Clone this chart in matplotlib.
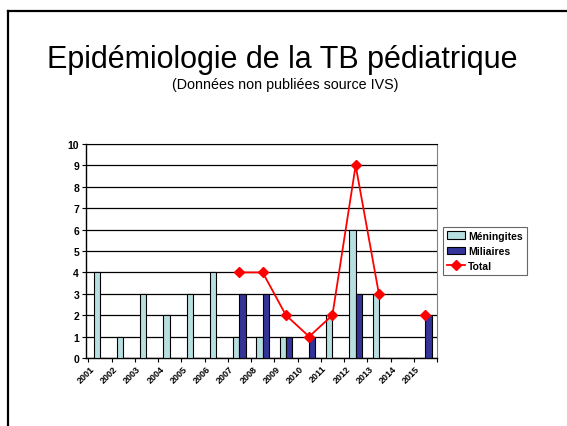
import matplotlib
matplotlib.use("Agg")
import matplotlib.pyplot as plt
import numpy as np
from matplotlib.lines import Line2D

plt.rcParams['font.family'] = ['Liberation Sans', 'DejaVu Sans']

years = ['2001', '2002', '2003', '2004', '2005', '2006', '2007', '2008',
         '2009', '2010', '2011', '2012', '2013', '2014', '2015']
meningites = [4, 1, 3, 2, 3, 4, 1, 1, 1, 0, 2, 6, 3, 0, 0]
miliaires = [0, 0, 0, 0, 0, 0, 3, 3, 1, 1, 0, 3, 0, 0, 2]
total = [np.nan, np.nan, np.nan, np.nan, np.nan, np.nan, 4, 4, 2, 1, 2, 9, 3, np.nan, 2]
yticks = list(range(0, 11))

fig = plt.figure(figsize=(5.67, 4.27), dpi=100)
ax = fig.add_axes([86/567, 1-359/427, (437-86)/567, (359-145)/427])

x = np.arange(len(years))
w = 0.27
b1 = ax.bar(x - w/2, meningites, width=w, color='#B7DEE0', edgecolor='black', linewidth=0.8,
            label='Méningites', zorder=3)
b2 = ax.bar(x + w/2, miliaires, width=w, color='#333399', edgecolor='black', linewidth=0.8,
            label='Miliaires', zorder=3)
l1, = ax.plot(x, total, color='#FF0000', marker='D', markersize=5, linewidth=1.3,
              label='Total', zorder=4)

ax.set_xlim(-0.5, len(years) - 0.5)
ax.set_ylim(0, 10)
ax.set_yticks(yticks)
ax.set_yticklabels([str(v) for v in yticks], fontsize=7.5, fontweight='bold')
ax.yaxis.grid(True, color='black', linewidth=0.9, zorder=0)
ax.set_axisbelow(True)

ax.set_xticks(x - 0.6)
ax.set_xticklabels(years, rotation=45, ha='center', va='top', fontsize=6.5, fontweight='bold')
ax.tick_params(axis='x', length=0, pad=4)
ax.set_xticks(np.arange(len(years) + 1) - 0.5, minor=True)
ax.tick_params(axis='x', which='minor', length=3, width=0.8, direction='out')
ax.tick_params(axis='y', length=3, width=0.8, direction='out', pad=2)

for s in ['left', 'bottom']:
    ax.spines[s].set_color('black')
    ax.spines[s].set_linewidth(1.0)
ax.spines['right'].set_color('#808080')
ax.spines['top'].set_color('black')

leg = ax.legend([b1, b2, l1], ['Méningites', 'Miliaires', 'Total'],
                loc='upper left', bbox_to_anchor=(443/567, 1-227.5/427),
                bbox_transform=fig.transFigure, prop={'size': 7.5, 'weight': 'bold'},
                frameon=True, fancybox=False, edgecolor='#404040', borderpad=0.4,
                borderaxespad=0, labelspacing=0.5, handlelength=1.7, handletextpad=0.3)
leg.get_frame().set_linewidth(0.8)

fig.text(282/567, 1-68/427, 'Epidémiologie de la TB pédiatrique', ha='center', va='baseline',
         fontsize=22)
fig.text(285/567, 1-88.5/427, '(Données non publiées source IVS)', ha='center', va='baseline',
         fontsize=10.3)

fig.add_artist(Line2D([8/567, 8/567], [0, 1-12/427], transform=fig.transFigure,
                      color='black', linewidth=1.6))
fig.add_artist(Line2D([8/567, 1], [1-12/427, 1-12/427], transform=fig.transFigure,
                      color='black', linewidth=1.6))

fig.savefig('out.png', dpi=100)
